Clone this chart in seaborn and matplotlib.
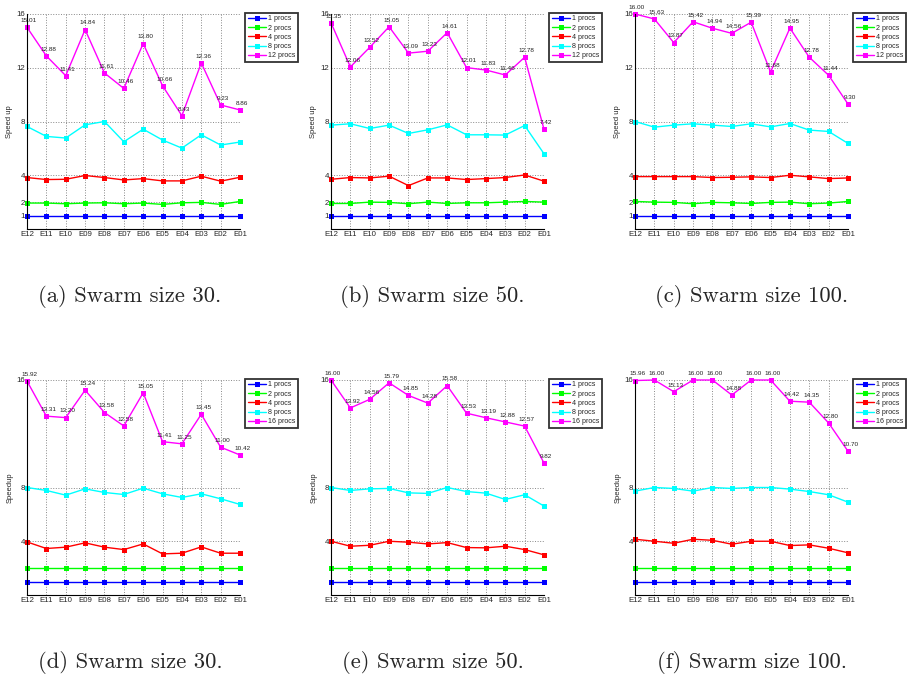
import numpy as np
import pandas as pd
import matplotlib
matplotlib.use('Agg')
import matplotlib.pyplot as plt
import seaborn as sns

# x axis: experiments
experiments = ['E12', 'E11', 'E10', 'E09', 'E08', 'E07', 'E06', 'E05', 'E04', 'E03', 'E02', 'E01']
colors = ['#0000ff', '#00ff00', '#ff0000', '#00ffff', '#ff00ff']

# (a) swarm size 30, up to 12 procs
a_p1 = [1, 1, 1, 1, 1, 1, 1, 1, 1, 1, 1, 1]
a_p2 = [1.93, 1.93, 1.88, 1.93, 1.95, 1.88, 1.93, 1.83, 1.95, 1.98, 1.83, 2.05]
a_p4 = [3.83, 3.68, 3.70, 3.98, 3.83, 3.65, 3.75, 3.58, 3.58, 3.93, 3.56, 3.85]
a_p8 = [7.63, 6.89, 6.77, 7.75, 8.00, 6.49, 7.43, 6.62, 6.02, 7.01, 6.25, 6.47]
a_p12 = [15.01, 12.88, 11.41, 14.84, 11.61, 10.46, 13.80, 10.66, 8.43, 12.36, 9.23, 8.86]

# (b) swarm size 50, up to 12 procs
b_p1 = [1, 1, 1, 1, 1, 1, 1, 1, 1, 1, 1, 1]
b_p2 = [1.90, 1.90, 2.00, 1.98, 1.88, 2.00, 1.90, 1.95, 1.95, 2.00, 2.05, 2.00]
b_p4 = [3.70, 3.83, 3.80, 3.93, 3.23, 3.80, 3.80, 3.68, 3.75, 3.83, 4.02, 3.56]
b_p8 = [7.73, 7.83, 7.48, 7.73, 7.11, 7.38, 7.75, 7.01, 7.01, 6.99, 7.70, 5.60]
b_p12 = [15.35, 12.06, 13.52, 15.05, 13.09, 13.23, 14.61, 12.01, 11.83, 11.46, 12.78, 7.42]

# (c) swarm size 100, up to 12 procs
c_p1 = [1, 1, 1, 1, 1, 1, 1, 1, 1, 1, 1, 1]
c_p2 = [2.05, 2.00, 1.98, 1.88, 1.98, 1.95, 1.90, 1.98, 2.00, 1.88, 1.93, 2.05]
c_p4 = [3.90, 3.90, 3.90, 3.90, 3.83, 3.85, 3.88, 3.83, 4.00, 3.88, 3.75, 3.80]
c_p8 = [8.00, 7.58, 7.73, 7.83, 7.73, 7.63, 7.83, 7.60, 7.85, 7.36, 7.26, 6.37]
c_p12 = [16.00, 15.63, 13.87, 15.42, 14.94, 14.56, 15.39, 11.68, 14.95, 12.78, 11.44, 9.30]

# (d) swarm size 30, up to 16 procs
d_p1 = [1, 1, 1, 1, 1, 1, 1, 1, 1, 1, 1, 1]
d_p2 = [2, 2, 2, 2, 2, 2, 2, 2, 2, 2, 2, 2]
d_p4 = [3.95, 3.46, 3.56, 3.88, 3.56, 3.38, 3.80, 3.06, 3.11, 3.58, 3.11, 3.11]
d_p8 = [8.00, 7.78, 7.43, 7.90, 7.63, 7.48, 7.95, 7.53, 7.26, 7.53, 7.16, 6.74]
d_p16 = [15.92, 13.31, 13.20, 15.24, 13.58, 12.58, 15.05, 11.41, 11.25, 13.45, 11.00, 10.42]

# (e) swarm size 50, up to 16 procs
e_p1 = [1, 1, 1, 1, 1, 1, 1, 1, 1, 1, 1, 1]
e_p2 = [2, 2, 2, 2, 2, 2, 2, 2, 2, 2, 2, 2]
e_p4 = [4.00, 3.63, 3.70, 4.00, 3.93, 3.80, 3.90, 3.53, 3.51, 3.63, 3.38, 2.99]
e_p8 = [8.00, 7.78, 7.90, 7.93, 7.60, 7.56, 8.00, 7.70, 7.58, 7.11, 7.46, 6.62]
e_p16 = [16.00, 13.92, 14.56, 15.79, 14.85, 14.28, 15.58, 13.53, 13.19, 12.88, 12.57, 9.82]

# (f) swarm size 100, up to 16 procs
f_p1 = [1, 1, 1, 1, 1, 1, 1, 1, 1, 1, 1, 1]
f_p2 = [2, 2, 2, 2, 2, 2, 2, 2, 2, 2, 2, 2]
f_p4 = [4.15, 4.00, 3.85, 4.15, 4.07, 3.78, 4.00, 4.00, 3.68, 3.73, 3.48, 3.14]
f_p8 = [7.73, 8.00, 7.93, 7.73, 8.00, 7.93, 8.00, 8.00, 7.88, 7.70, 7.46, 6.91]
f_p16 = [15.96, 16.00, 15.13, 16.00, 16.00, 14.88, 16.00, 16.00, 14.42, 14.35, 12.80, 10.70]

top_labels = ['1 procs', '2 procs', '4 procs', '8 procs', '12 procs']
bottom_labels = ['1 procs', '2 procs', '4 procs', '8 procs', '16 procs']
top_yticks = [1, 2, 4, 8, 12, 16]
bottom_yticks = [4, 8, 16]

sns.set_style('white')
plt.rcParams['font.family'] = ['Liberation Sans', 'DejaVu Sans']


def draw_panel(ax, series, labels, yticks, ylabel):
    rows = []
    for lab, vals in zip(labels, series):
        for e, v in zip(experiments, vals):
            rows.append({'exp': e, 'speedup': v, 'procs': lab})
    df = pd.DataFrame(rows)
    sns.lineplot(data=df, x='exp', y='speedup', hue='procs', hue_order=labels,
                 palette=colors, marker='s', markersize=3.6, markeredgewidth=0,
                 linewidth=1.0, sort=False, legend=False, clip_on=False, ax=ax)
    # value labels on the top series
    for i, v in enumerate(series[-1]):
        ax.annotate(f'{v:.2f}', (i, v), xytext=(1.5, 3), textcoords='offset points',
                    ha='center', va='bottom', fontsize=4.6, color='#222222')
    ax.set_xlim(0, len(experiments) - 1)
    ax.set_ylim(0, 16)
    ax.set_yticks(yticks)
    ax.set_yticklabels([str(t) for t in yticks])
    ax.set_xlabel('')
    ax.set_ylabel(ylabel, fontsize=5.5, labelpad=2)
    ax.tick_params(axis='both', labelsize=5.7, length=2, pad=1.5, direction='in')
    ax.grid(True, linestyle=':', color='#888888', linewidth=0.7)
    for s in ['top', 'right']:
        ax.spines[s].set_visible(False)
    for s in ['left', 'bottom']:
        ax.spines[s].set_color('black')
        ax.spines[s].set_linewidth(0.8)
    leg = ax.legend(ax.lines[:len(labels)], labels, loc='upper left',
                    bbox_to_anchor=(1.025, 1.005), fontsize=5.1, frameon=True,
                    fancybox=False, handlelength=2.6, handletextpad=0.3,
                    labelspacing=0.32, borderpad=0.35, borderaxespad=0)
    leg.get_frame().set_edgecolor('black')
    leg.get_frame().set_linewidth(1.3)


fig = plt.figure(figsize=(9.07, 6.79), dpi=100)
W, H = 907, 679

panels = [
    ([a_p1, a_p2, a_p4, a_p8, a_p12], top_labels, top_yticks, 'Speed up', 27, 14, 130, '(a) Swarm size 30.'),
    ([b_p1, b_p2, b_p4, b_p8, b_p12], top_labels, top_yticks, 'Speed up', 331, 14, 432, '(b) Swarm size 50.'),
    ([c_p1, c_p2, c_p4, c_p8, c_p12], top_labels, top_yticks, 'Speed up', 635, 14, 752, '(c) Swarm size 100.'),
    ([d_p1, d_p2, d_p4, d_p8, d_p16], bottom_labels, bottom_yticks, 'Speedup', 27, 380, 130, '(d) Swarm size 30.'),
    ([e_p1, e_p2, e_p4, e_p8, e_p16], bottom_labels, bottom_yticks, 'Speedup', 331, 380, 433, '(e) Swarm size 50.'),
    ([f_p1, f_p2, f_p4, f_p8, f_p16], bottom_labels, bottom_yticks, 'Speedup', 635, 380, 752, '(f) Swarm size 100.'),
]

for series, labels, yticks, ylabel, left, top, cap_x, caption in panels:
    ax_w, ax_h = 213, 215
    ax = fig.add_axes([left / W, 1 - (top + ax_h) / H, ax_w / W, ax_h / H])
    draw_panel(ax, series, labels, yticks, ylabel)
    cap_y = top + ax_h + 68
    fig.text(cap_x / W, 1 - cap_y / H, caption, fontfamily='cmr10',
             fontsize=16.3, ha='center', va='center')

fig.savefig('out.png', dpi=100)
